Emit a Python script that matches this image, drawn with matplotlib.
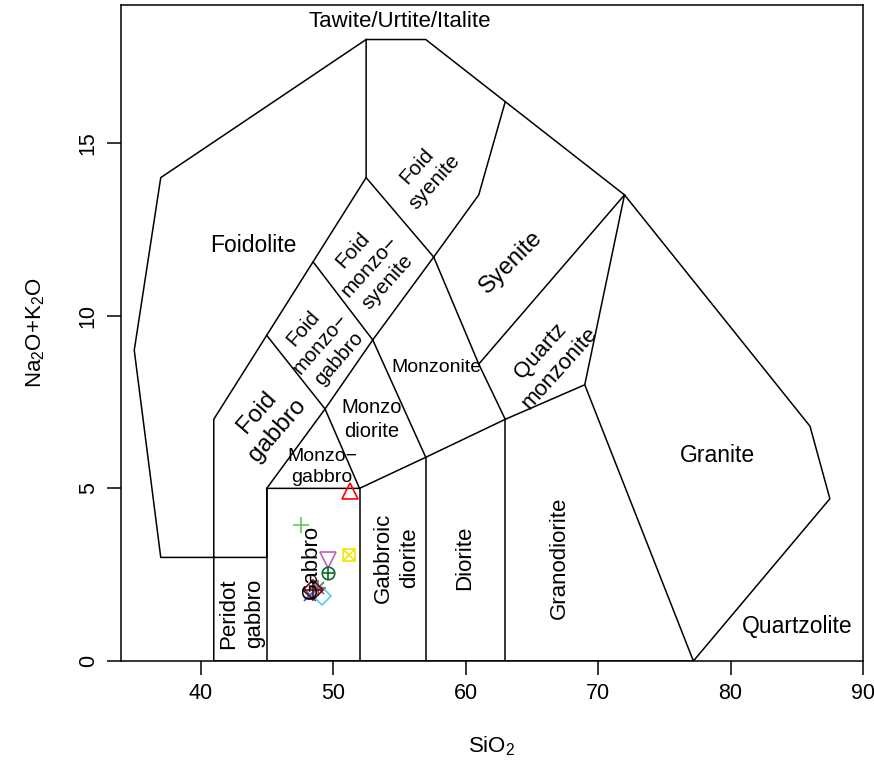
import matplotlib
matplotlib.use("Agg")
import matplotlib.pyplot as plt

plt.rcParams["font.family"] = ["Liberation Sans", "DejaVu Sans"]
plt.rcParams["mathtext.fontset"] = "custom"
plt.rcParams["mathtext.rm"] = "Liberation Sans"
plt.rcParams["mathtext.it"] = "Liberation Sans:italic"

# TAS (plutonic) field boundaries, SiO2 vs Na2O+K2O
outline = [(41, 0), (41, 7), (52.5, 14), (52.5, 18), (57, 18), (63, 16.2),
           (72, 13.5), (86, 6.8), (87.5, 4.7), (77.2, 0), (69, 8), (63, 7),
           (57, 5.9), (52, 5), (45, 5), (45, 3), (37, 3), (35, 9), (37, 14),
           (52.5, 18)]
inner_lines = [
    [(41, 0), (77.2, 0)],
    [(45, 0), (45, 5)],
    [(52, 0), (52, 5)],
    [(57, 0), (57, 5.9)],
    [(63, 0), (63, 7)],
    [(45, 5), (49.4, 7.3), (53, 9.3), (57.6, 11.7), (61, 13.5), (63, 16.2)],
    [(45, 9.43), (49.4, 7.3)],
    [(48.5, 11.56), (53, 9.3)],
    [(52.5, 14), (57.6, 11.7)],
    [(49.4, 7.3), (52, 5)],
    [(53, 9.3), (57, 5.9)],
    [(57.6, 11.7), (61, 8.6), (63, 7)],
    [(61, 8.6), (72, 13.5)],
    [(69, 8), (72, 13.5)],
]

# field names: text, x, y, rotation, size
field_names = ["Tawite/Urtite/Italite", "Foidolite", "Foid\nsyenite",
               "Foid\nmonzo\u2212\nsyenite", "Foid\nmonzo\u2212\ngabbro",
               "Foid\ngabbro", "Monzo\u2212\ngabbro", "Monzo\ndiorite",
               "Monzonite", "Syenite", "Quartz\nmonzonite", "Granite",
               "Quartzolite", "Peridot\ngabbro", "Gabbro", "Gabbroic\ndiorite",
               "Diorite", "Granodiorite"]
field_x = [55.0, 44.0, 57.0, 52.8, 49.1, 45.0, 49.17, 52.95, 57.8, 63.4, 66.4,
           79.0, 85.0, 43.1, 48.4, 54.8, 59.9, 67.05]
field_y = [18.52, 12.03, 14.1, 11.43, 9.2, 6.94, 5.63, 7.0, 8.49, 11.54, 8.72,
           5.94, 0.99, 1.38, 2.87, 2.98, 2.98, 2.98]
field_rot = [0, 0, 48, 48, 49, 49, 0, 0, 0, 45, 48, 0, 0, 90, 90, 90, 90, 90]
field_size = [16, 16.5, 15, 15, 14.8, 17.5, 14, 14.5, 14, 17, 16, 16.5,
              16.5, 16, 16, 16, 16, 16]

# samples
sio2 = [51.3, 47.6, 48.23, 49.17, 49.6, 51.18, 48.9, 48.5, 49.6]
alkali = [4.91, 3.94, 1.91, 1.88, 2.93, 3.07, 2.12, 2.06, 2.54]
pch = [2, 3, 4, 5, 6, 7, 8, 9, 10]
colors = ["#FF0000", "#5CC85C", "#2F5FC0", "#5CC8EE", "#C060B8", "#F2E600",
          "#707070", "#6E0A14", "#0B6B2E"]

fig = plt.figure(figsize=(8.74, 7.74), dpi=100)
ax = fig.add_axes([121 / 874, 1 - 661 / 774, 742 / 874, 656 / 774])

ox, oy = zip(*outline)
ax.plot(ox, oy, color="black", lw=1.1)
for seg in inner_lines:
    sx, sy = zip(*seg)
    ax.plot(sx, sy, color="black", lw=1.1)

for t, x, y, r, s in zip(field_names, field_x, field_y, field_rot, field_size):
    ax.text(x, y, t, rotation=r, fontsize=s, ha="center", va="center",
            linespacing=1.3, rotation_mode="anchor")

for x, y, p, c in zip(sio2, alkali, pch, colors):
    kw = dict(linestyle="none", markerfacecolor="none", markeredgecolor=c,
              markeredgewidth=1.2)
    if p == 2:
        ax.plot(x, y, marker="^", ms=11, **kw)
    elif p == 3:
        ax.plot(x, y, marker="+", ms=12, **kw)
    elif p == 4:
        ax.plot(x, y, marker="x", ms=9, **kw)
    elif p == 5:
        ax.plot(x, y, marker="D", ms=9, **kw)
    elif p == 6:
        ax.plot(x, y, marker="v", ms=11, **kw)
    elif p == 7:
        ax.plot(x, y, marker="s", ms=8.5, **kw)
        ax.plot(x, y, marker="x", ms=8, **kw)
    elif p == 8:
        ax.plot(x, y, marker="+", ms=11, **kw)
        ax.plot(x, y, marker="x", ms=8, **kw)
    elif p == 9:
        ax.plot(x, y, marker="D", ms=10, **kw)
        ax.plot(x, y, marker="+", ms=13, **kw)
    elif p == 10:
        ax.plot(x, y, marker="o", ms=9, **kw)
        ax.plot(x, y, marker="+", ms=9, **kw)

ax.set_xlim(34, 90)
ax.set_ylim(0, 19)
ax.set_xticks([40, 50, 60, 70, 80, 90])
ax.set_yticks([0, 5, 10, 15])
ax.tick_params(direction="out", length=10, width=1.1, labelsize=15.5, pad=6)
for lab in ax.get_yticklabels():
    lab.set_rotation(90)
    lab.set_va("center")
for sp in ax.spines.values():
    sp.set_linewidth(1.1)

ax.set_xlabel("SiO$_2$", fontsize=16, labelpad=22)
ax.set_ylabel("Na$_2$O$+$K$_2$O", fontsize=16, labelpad=22)

fig.savefig("out.png", dpi=100)
